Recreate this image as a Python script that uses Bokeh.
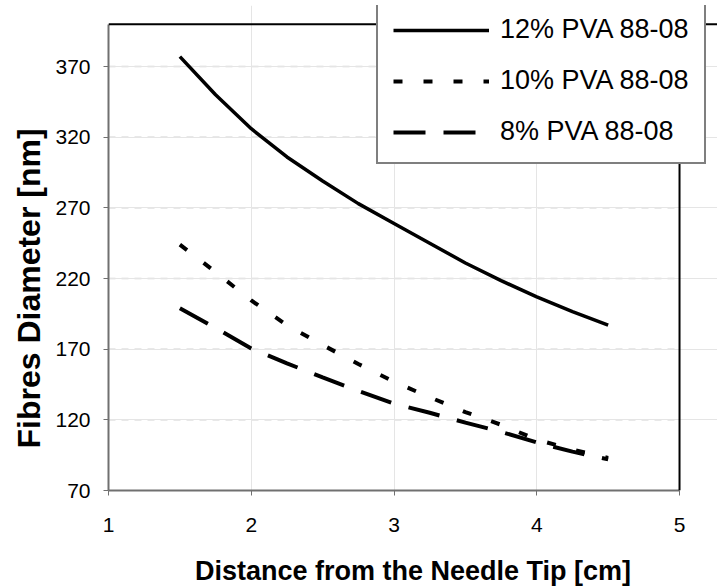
from bokeh.plotting import figure
from bokeh.models import Legend, LegendItem, FixedTicker, Range1d, Span, Title
from bokeh.embed import file_html
from bokeh.resources import INLINE

# ---- data ----
distance = [1.5, 1.75, 2.0, 2.25, 2.5, 2.75, 3.0, 3.25, 3.5, 3.75, 4.0, 4.25, 4.5]
pva12 = [377, 350, 326, 306, 289, 273, 259, 245, 231, 218.5, 207, 196.5, 187]
pva10 = [244, 224.5, 204.5, 187, 173, 159.5, 147, 136, 125.5, 116.5, 106, 99, 93]
pva8 = [199, 185, 170.5, 160, 150, 140.5, 131.5, 125, 118, 111.5, 104, 97.5, 92]
series_names = ["12% PVA 88-08", "10% PVA 88-08", "8% PVA 88-08"]
x_title = "Distance from the Needle Tip [cm]"
y_title = "Fibres Diameter [nm]"
x_ticks = [1, 2, 3, 4, 5]
y_ticks = [70, 120, 170, 220, 270, 320, 370]
x_axis_min, x_axis_max = 1, 5
y_axis_min, y_axis_max = 70, 400

FONT = "Liberation Sans"

p = figure(width=717, height=588, output_backend="svg", toolbar_location=None,
           x_range=Range1d(1, 5.266), y_range=Range1d(70, 413.2),
           min_border_left=108, min_border_right=0, min_border_top=5, min_border_bottom=98)

p.background_fill_color = "white"
p.border_fill_color = "white"
p.outline_line_color = None

# dashed horizontal gridlines (only inside the plot box)
gy = y_ticks[1:]
p.segment(x0=[x_axis_min] * len(gy), y0=gy, x1=[x_axis_max] * len(gy), y1=gy,
          line_color="#d2d2d2", line_width=1.5, line_dash="7 6", level="underlay")

r12 = p.line(distance, pva12, line_color="black", line_width=3.5, line_join="round")
r10 = p.line(distance, pva10, line_color="black", line_width=4, line_dash="9 21")
r8 = p.line(distance, pva8, line_color="black", line_width=4, line_dash="32 18")

# axes
p.xaxis.ticker = FixedTicker(ticks=x_ticks)
p.yaxis.ticker = FixedTicker(ticks=y_ticks)
p.xaxis.bounds = (x_axis_min, x_axis_max)
p.yaxis.bounds = (y_axis_min, y_axis_max)
for ax in (p.xaxis[0], p.yaxis[0]):
    ax.axis_line_color = "#707070"
    ax.axis_line_width = 2
    ax.major_tick_line_color = "#707070"
    ax.major_tick_line_width = 1
    ax.major_tick_out = 5
    ax.major_tick_in = 0
    ax.minor_tick_line_color = None
    ax.major_label_text_font = FONT
    ax.major_label_text_font_size = "21px"
    ax.major_label_text_color = "black"
p.xaxis.major_label_standoff = 22
p.yaxis.major_label_standoff = 13

# x title as the axis label
p.xaxis.axis_label = x_title
p.xaxis.axis_label_text_font = FONT
p.xaxis.axis_label_text_font_size = "27px"
p.xaxis.axis_label_text_font_style = "bold"
p.xaxis.axis_label_text_color = "black"
p.xaxis.axis_label_standoff = 21

# y title (as a title so it can be shifted along the axis like the reference)
p.add_layout(Title(text=y_title, text_font=FONT, text_font_size="32px",
                   text_font_style="bold", text_color="black", align="left",
                   offset=42, standoff=12), "left")

# top and right borders of the plot box
p.add_layout(Span(location=y_axis_max, dimension="width", line_color="black", line_width=2))
p.add_layout(Span(location=x_axis_max, dimension="height", line_color="black", line_width=2))

legend = Legend(items=[LegendItem(label=series_names[0], renderers=[r12]),
                       LegendItem(label=series_names[1], renderers=[r10]),
                       LegendItem(label=series_names[2], renderers=[r8])],
                location=(268, 326))
legend.border_line_color = "black"
legend.border_line_width = 2
legend.background_fill_color = "white"
legend.background_fill_alpha = 1
legend.padding = 15
legend.spacing = 20
legend.margin = 0
legend.glyph_width = 96
legend.glyph_height = 30
legend.label_height = 30
legend.label_standoff = 11
legend.label_text_font = FONT
legend.label_text_font_size = "27px"
legend.label_text_color = "black"
legend.label_text_baseline = "middle"
p.add_layout(legend, "center")

open("out.html", "w").write(file_html(p, INLINE))
